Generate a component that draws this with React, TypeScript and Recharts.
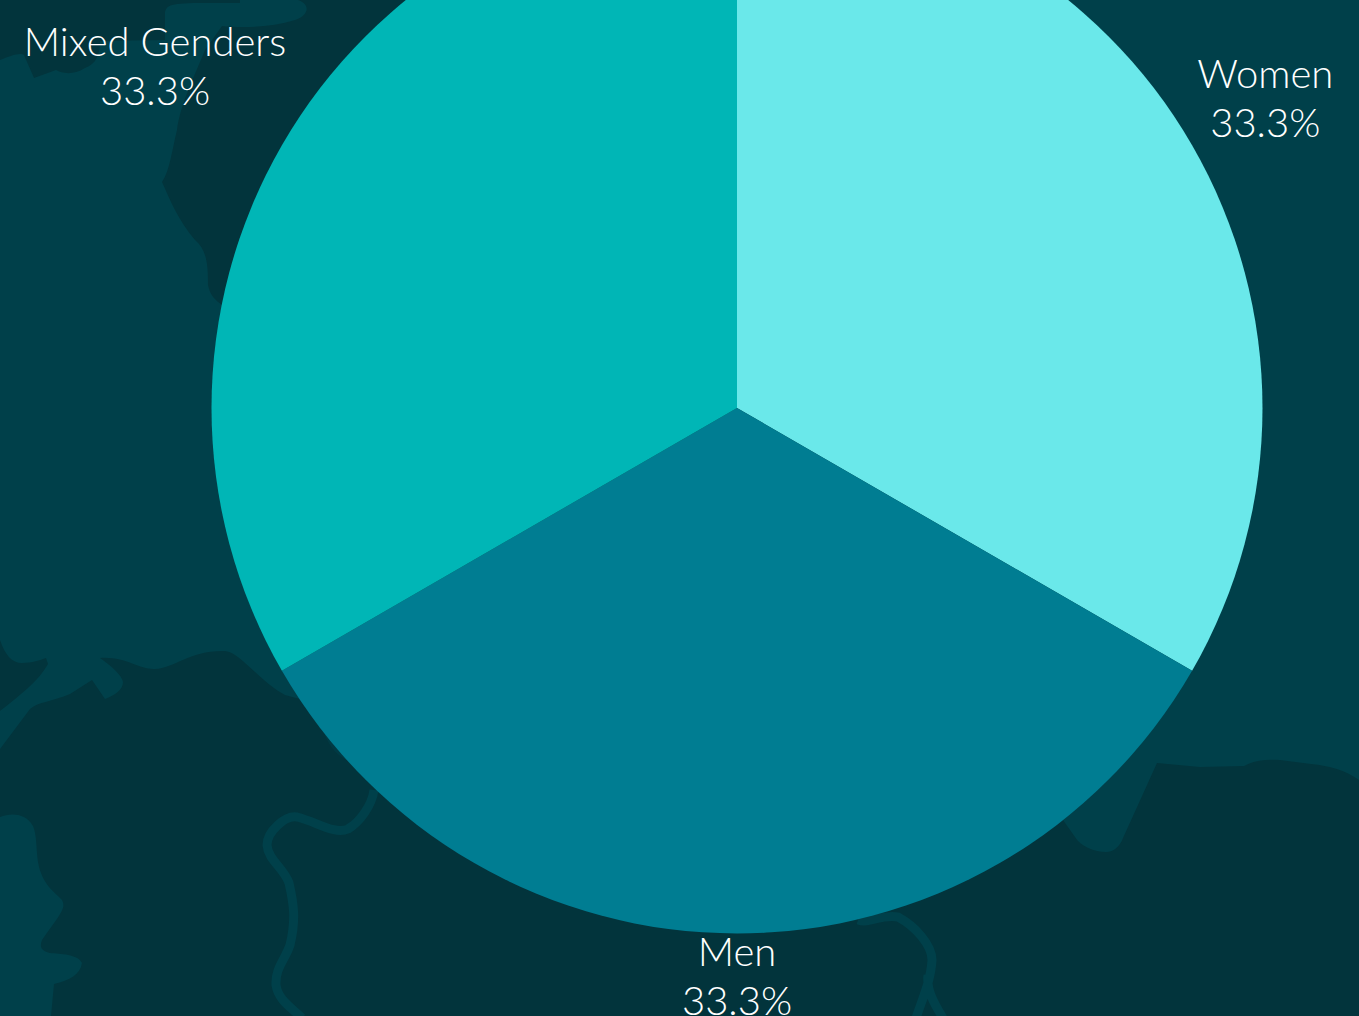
import { PieChart, Pie, Cell } from 'recharts';

const categories = ['Women', 'Men', 'Mixed Genders'];
const shares = [33.3, 33.3, 33.3];
const colors = ['#6ae8ea', '#007d92', '#00b6b6'];
const labelDistance: Record<string, number> = { Women: 610, Men: 568, 'Mixed Genders': 672 };
const labelLift: Record<string, number> = { Women: 5, Men: 0, 'Mixed Genders': 6 };

const data = categories.map((name, i) => ({ name, value: shares[i] }));

const LAND = '#00404a';
const DARK = '#02343c';
const FONT = 'Lato, sans-serif';

// map shapes behind the pie
function Backdrop() {
  return (
    <svg width={1359} height={1016} style={{ position: 'absolute', left: 0, top: 0 }}>
      <rect width={1359} height={1016} fill={LAND} />
      <path
        fill={DARK}
        d="M0 0 L0 60 C10 56 20 52 24 55 L34 78 L56 70 C62 73 72 76 85 68 C96 64 100 55 100 41 L165 40 L165 12 C168 2 175 3 240 3 L240 0 L298 0 C310 4 310 15 295 20 C270 28 240 28 222 26 L205 50 C195 75 180 105 177 130 C172 150 170 170 162 182 C170 200 178 220 195 240 C207 250 208 265 208 285 C210 295 215 300 222 305 L737 305 L737 0 Z"
      />
      <path fill={DARK} d="M0 640 C5 655 12 663 22 663 C32 663 40 660 46 658 L48 664 C38 682 20 695 0 711 Z" />
      <path
        fill={DARK}
        d="M0 749 L30 709 C38 702 50 702 70 694 L92 680 L105 699 C115 695 123 690 123 682 C122 675 110 665 100 658 C125 656 140 670 155 669 C175 668 190 650 225 651 C240 652 260 682 285 695 L300 699 L700 800 L1063 820 L1075 837 C1080 846 1095 852 1106 852 C1114 852 1120 846 1123 838 L1157 763 L1200 767 L1244 766 C1255 760 1266 759 1280 760 L1311 764 C1330 766 1345 770 1359 780 L1359 1016 L0 1016 Z"
      />
      <path
        fill={LAND}
        d="M0 817 C10 813 25 812 33 826 C37 835 36 850 38 862 C42 885 55 892 62 900 C66 908 62 912 42 940 C39 948 42 951 50 953 C60 954 78 954 82 963 C80 975 70 980 54 984 L51 1016 L0 1016 Z"
      />
      <path
        fill="none"
        stroke={LAND}
        strokeWidth={9}
        d="M374 790 C372 805 360 822 348 829 C335 835 317 822 297 817 C285 815 267 832 267 845 C268 860 284 868 289 883 C294 905 296 920 290 945 C285 960 275 968 276 985 C278 1000 292 1008 302 1018"
      />
      <path
        fill="none"
        stroke={LAND}
        strokeWidth={9}
        d="M858 920 C870 924 880 914 898 917 C915 926 932 945 932 960 C931 980 922 1000 916 1018 M928 975 C926 990 935 1005 943 1018"
      />
      <path fill={LAND} d="M324 733 C330 748 338 756 350 762 L355 755 L330 725 Z" opacity={0.6} />
    </svg>
  );
}

function renderLabel(props: any) {
  const { cx, cy, midAngle, name, value } = props;
  const rad = (-midAngle * Math.PI) / 180;
  const r = labelDistance[name];
  const x = cx + r * Math.cos(rad);
  const y = cy + r * Math.sin(rad) - labelLift[name];
  return (
    <text x={x} y={y} textAnchor="middle" fill="#ffffff" fontFamily={FONT} fontWeight={300} fontSize={40}>
      <tspan x={x} dy={-10}>{name}</tspan>
      <tspan x={x} dy={49}>{`${value.toFixed(1)}%`}</tspan>
    </text>
  );
}

export default function App() {
  return (
    <div style={{ position: 'fixed', left: 0, top: 0, width: 1359, height: 1016, overflow: 'hidden' }}>
      <Backdrop />
      <div style={{ position: 'absolute', left: 0, top: 0 }}>
        <PieChart width={1359} height={1016} margin={{ top: 0, right: 0, bottom: 0, left: 0 }}>
          <Pie
            data={data}
            dataKey="value"
            nameKey="name"
            cx={737}
            cy={408}
            outerRadius={525.5}
            startAngle={90}
            endAngle={-270}
            stroke="none"
            label={renderLabel}
            labelLine={false}
            isAnimationActive={false}
          >
            {data.map((entry, index) => (
              <Cell key={`cell-${index}`} fill={colors[index]} />
            ))}
          </Pie>
        </PieChart>
      </div>
    </div>
  );
}
